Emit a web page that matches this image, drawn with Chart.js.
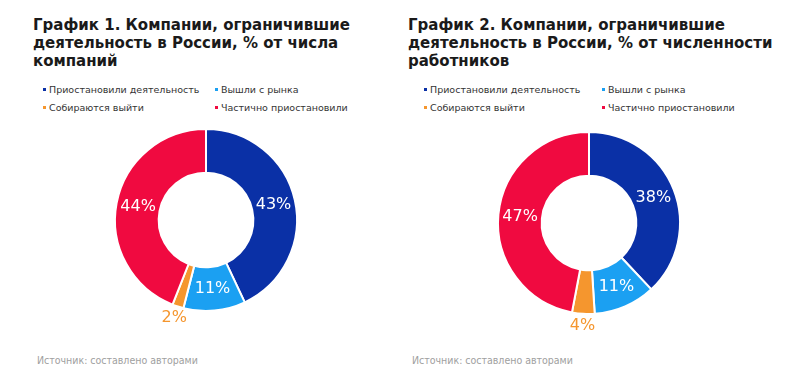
<!DOCTYPE html>
<html lang="ru">
<head>
<meta charset="utf-8">
<script src="https://cdn.jsdelivr.net/npm/chart.js@4"></script>
<style>
  html, body { margin: 0; padding: 0; background: #fff; }
  body { width: 800px; height: 387px; position: relative; overflow: hidden; font-family: 'DejaVu Sans', Verdana, sans-serif; }
  .title { position: absolute; top: 16px; font-weight: bold; font-size: 15px; line-height: 18px; color: #1a1a1a; }
  .legend { position: absolute; top: 83px; font-size: 9.5px; color: #333; }
  .legend .item { position: absolute; white-space: nowrap; line-height: 14px; }
  .legend .mark { display: inline-block; width: 3px; height: 3px; margin-right: 3px; vertical-align: middle; position: relative; top: -1px; }
  .source { position: absolute; top: 354px; font-family: 'DejaVu Sans Condensed', 'DejaVu Sans', sans-serif; font-size: 10.5px; color: #a0a0a0; }
  canvas { position: absolute; }
</style>
</head>
<body>

<div class="title" style="left:33px">График 1. Компании, ограничившие<br>деятельность в России, % от числа<br>компаний</div>
<div class="title" style="left:408px">График 2. Компании, ограничившие<br>деятельность в России, % от численности<br>работников</div>

<div class="legend" id="legend1" style="left:43px"></div>
<div class="legend" id="legend2" style="left:424px"></div>

<canvas id="chart1" width="240" height="240" style="left:86px;top:100px"></canvas>
<canvas id="chart2" width="240" height="240" style="left:469px;top:103px"></canvas>

<div class="source" style="left:37px">Источник: составлено авторами</div>
<div class="source" style="left:412px">Источник: составлено авторами</div>

<script>
// Данные
const categories = ['Приостановили деятельность', 'Вышли с рынка', 'Собираются выйти', 'Частично приостановили'];
const shareByCompanies = [43, 11, 2, 44];
const shareByWorkers = [38, 11, 4, 47];
const colors = ['#0a30a6', '#1ba0f2', '#f5962e', '#f00a40'];

// Легенда — две колонки, два ряда
function buildLegend(elId, colGap) {
  const el = document.getElementById(elId);
  categories.forEach((name, i) => {
    const item = document.createElement('div');
    item.className = 'item';
    item.style.left = (i % 2) * colGap + 'px';
    item.style.top = Math.floor(i / 2) * 18 + 'px';
    item.innerHTML = `<span class="mark" style="background:${colors[i]}"></span>${name}`;
    el.appendChild(item);
  });
}
buildLegend('legend1', 172);
buildLegend('legend2', 178);

// Подписи процентов: внутри кольца, маленькие доли — снаружи своим цветом
const arcLabelsPlugin = {
  id: 'arcLabels',
  afterDatasetsDraw(chart) {
    const { ctx } = chart;
    const meta = chart.getDatasetMeta(0);
    const values = chart.data.datasets[0].data;
    ctx.save();
    ctx.font = '16px "DejaVu Sans", sans-serif';
    ctx.textAlign = 'center';
    ctx.textBaseline = 'middle';
    meta.data.forEach((arc, i) => {
      const p = arc.getProps(['x', 'y', 'startAngle', 'endAngle', 'innerRadius', 'outerRadius'], true);
      const mid = (p.startAngle + p.endAngle) / 2;
      const small = values[i] < 5;
      const r = small ? p.outerRadius + 12 : (p.innerRadius + p.outerRadius) / 2;
      ctx.fillStyle = small ? colors[i] : '#ffffff';
      ctx.fillText(values[i] + '%', p.x + Math.cos(mid) * r, p.y + Math.sin(mid) * r);
    });
    ctx.restore();
  },
};

function renderDonut(canvasId, values) {
  const ctx = document.getElementById(canvasId).getContext('2d');
  return new Chart(ctx, {
    type: 'doughnut',
    plugins: [arcLabelsPlugin],
    data: {
      labels: categories,
      datasets: [{
        data: values,
        backgroundColor: colors,
        borderColor: '#ffffff',
        borderWidth: 2,
      }],
    },
    options: {
      responsive: false,
      animation: false,
      cutout: '52%',
      layout: { padding: 28 },
      plugins: {
        legend: { display: false },
        tooltip: { enabled: false },
      },
    },
  });
}

renderDonut('chart1', shareByCompanies);
renderDonut('chart2', shareByWorkers);
</script>
</body>
</html>
